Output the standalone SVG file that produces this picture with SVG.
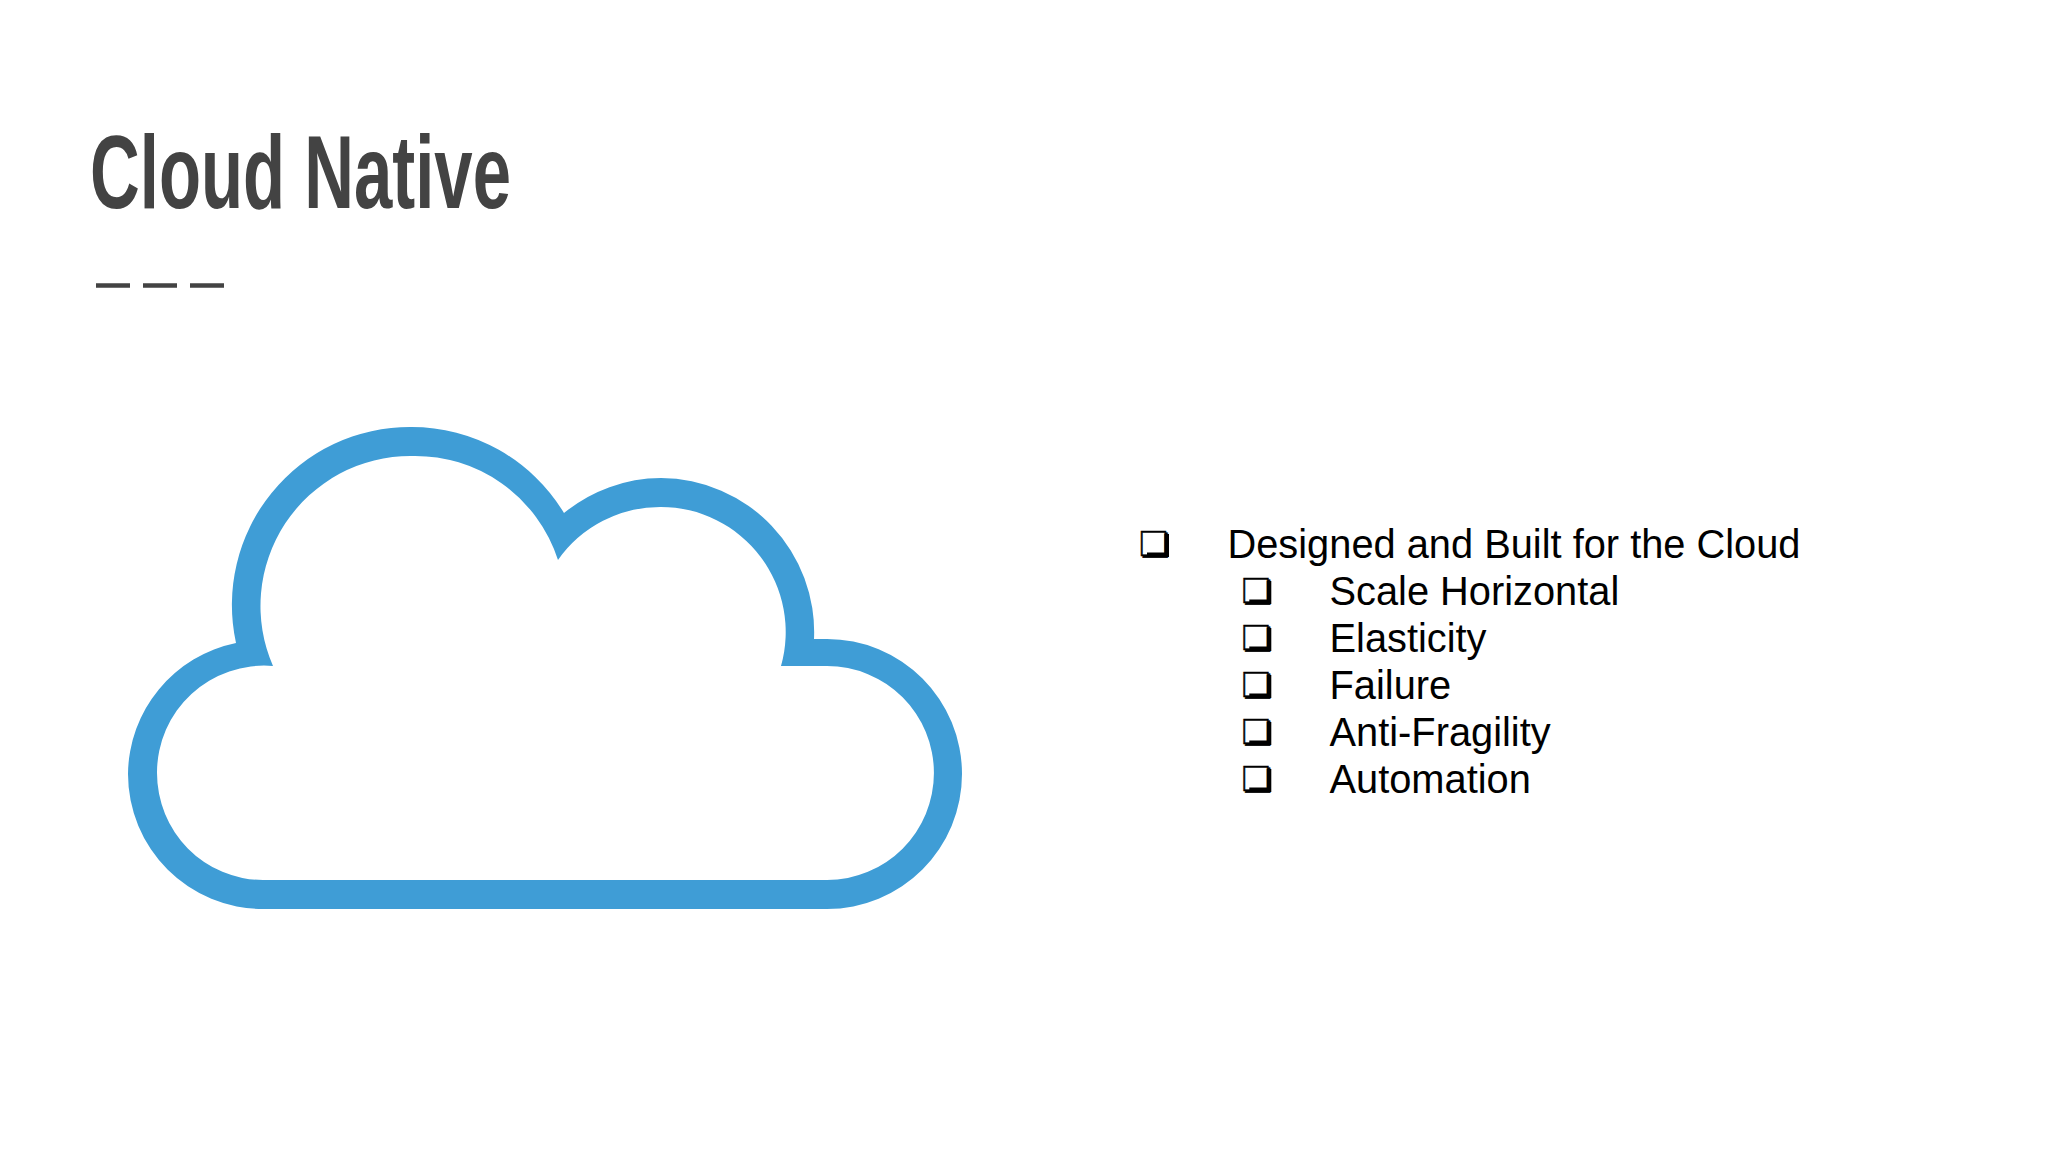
<svg xmlns="http://www.w3.org/2000/svg" width="2048" height="1152" viewBox="0 0 2048 1152">
<style>
.t{font-family:"Liberation Sans",Arial,sans-serif;font-size:39.8px;fill:#000}
.b{font-family:"DejaVu Sans",sans-serif;font-size:34px;fill:#000;stroke:#000;stroke-width:.5}
</style>
<defs><path id="s" d="M1164.5 534H1169V557H1147V552.5H1164.5Z" fill="#000"/></defs>
<rect width="2048" height="1152" fill="#fff"/>
<g id="title">
<text x="90" y="208" font-family="'Liberation Sans Narrow','Liberation Sans',sans-serif" font-weight="700" font-size="104" fill="#434343" textLength="421" lengthAdjust="spacingAndGlyphs">Cloud Native</text>
<path d="M96 285.5H130M143 285.5H177M190 285.5H224" stroke="#434343" stroke-width="4.5" fill="none"/>
</g>
<g id="cloud">
<path fill="#3f9dd6" fill-rule="evenodd" d="M236 643A178 178 0 0 1 411 427A178 178 0 0 1 564 513A154 154 0 0 1 661 478A154 154 0 0 1 814 639H827A135 135 0 0 1 827 909H263A135 135 0 0 1 128 774A135 135 0 0 1 236 643ZM273 666A150 150 0 0 1 411 456A150 150 0 0 1 558 560A125 125 0 0 1 661 507A125 125 0 0 1 781 666H827A107 107 0 0 1 827 880H263A106 107 0 0 1 157 773A107 107 0 0 1 273 666Z"/>
</g>
<g id="list">
<use href="#s"/><text class="b" x="1139" y="555.5">❏</text><text class="t" x="1227.5" y="558">Designed and Built for the Cloud</text>
<use href="#s" x="102.3" y="47"/><text class="b" x="1241.5" y="602.5">❏</text><text class="t" x="1329.5" y="605">Scale Horizontal</text>
<use href="#s" x="102.3" y="94"/><text class="b" x="1241.5" y="649.5">❏</text><text class="t" x="1329.5" y="652">Elasticity</text>
<use href="#s" x="102.3" y="141"/><text class="b" x="1241.5" y="696.5">❏</text><text class="t" x="1329.5" y="699">Failure</text>
<use href="#s" x="102.3" y="188"/><text class="b" x="1241.5" y="743.5">❏</text><text class="t" x="1329.5" y="746">Anti-Fragility</text>
<use href="#s" x="102.3" y="235"/><text class="b" x="1241.5" y="790.5">❏</text><text class="t" x="1329.5" y="793">Automation</text>
</g>
</svg>
